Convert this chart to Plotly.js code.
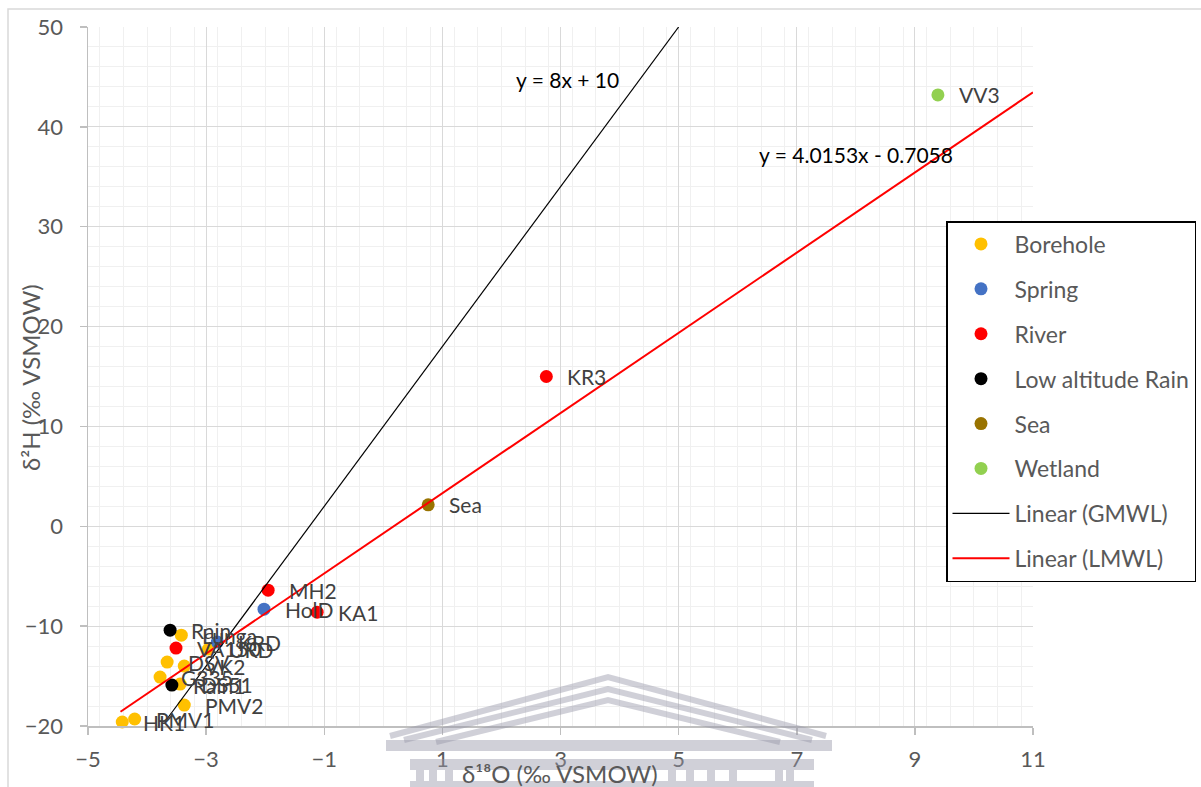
<!DOCTYPE html>
<html>
<head>
<meta charset="utf-8">
<script src="https://cdn.plot.ly/plotly-3.0.1.min.js"></script>
<style>
  html, body { margin: 0; padding: 0; background: #ffffff; }
  #chart { width: 1201px; height: 787px; }
</style>
</head>
<body>
<div id="chart"></div>
<script>
// δ18O / δ2H isotope samples, grouped by water source
const boreholeX = [-4.42, -4.21, -3.37, -3.78, -3.44, -3.66, -3.37, -3.42, -2.96];
const boreholeY = [-19.6, -19.3, -17.9, -15.1, -15.8, -13.6, -14.0, -10.9, -12.3];
const boreholeLabels = ['HK1', 'PMV1', 'PMV2', 'G335', 'DS51', 'DSV', 'VK2', 'Lunga', 'URD'];

const springX = [-2.81, -2.02];
const springY = [-11.6, -8.3];
const springLabels = ['KRD', 'HolD'];

const riverX = [-3.51, -1.95, -1.12, 2.76];
const riverY = [-12.2, -6.4, -8.6, 15.0];
const riverLabels = ['VA150', 'MH2', 'KA1', 'KR3'];

const rainX = [-3.61, -3.58];
const rainY = [-10.4, -15.9];
const rainLabels = ['Rain', 'Rain1'];

const seaX = [0.76];
const seaY = [2.15];
const seaLabels = ['Sea'];

const wetlandX = [9.39];
const wetlandY = [43.2];
const wetlandLabels = ['VV3'];

// Meteoric water lines: slope, intercept and x extent
const gmwlSlope = 8, gmwlIntercept = 10, gmwlXRange = [-3.7, 5];
const lmwlSlope = 4.0153, lmwlIntercept = -0.7058, lmwlXRange = [-4.45, 11];

const FONT = 'Lato, "Open Sans", sans-serif';

function lineY(xs, m, b) { return xs.map(x => m * x + b); }

const groups = [
  { name: 'Borehole', x: boreholeX, y: boreholeY, t: boreholeLabels, c: '#FFC000' },
  { name: 'Spring', x: springX, y: springY, t: springLabels, c: '#4472C4' },
  { name: 'River', x: riverX, y: riverY, t: riverLabels, c: '#FF0000' },
  { name: 'Low altitude Rain', x: rainX, y: rainY, t: rainLabels, c: '#000000' },
  { name: 'Sea', x: seaX, y: seaY, t: seaLabels, c: '#997300' },
  { name: 'Wetland', x: wetlandX, y: wetlandY, t: wetlandLabels, c: '#92D050' }
];

const traces = groups.map((g, i) => ({
  type: 'scatter', mode: 'markers', name: g.name,
  x: g.x, y: g.y, legendgroup: 'g' + i,
  marker: { color: g.c, size: 13 },
  cliponaxis: false, hoverinfo: 'x+y+name'
}));

traces.push({
  type: 'scatter', mode: 'lines', name: 'Linear (GMWL)', legendgroup: 'g6',
  x: gmwlXRange, y: lineY(gmwlXRange, gmwlSlope, gmwlIntercept),
  line: { color: '#000000', width: 1.2 }
});
traces.push({
  type: 'scatter', mode: 'lines', name: 'Linear (LMWL)', legendgroup: 'g7',
  x: lmwlXRange, y: lineY(lmwlXRange, lmwlSlope, lmwlIntercept),
  line: { color: '#FF0000', width: 2 }
});

// Point labels to the right of each marker
const annotations = [];
groups.forEach(g => {
  g.x.forEach((x, k) => {
    annotations.push({
      x: x, y: g.y[k], xref: 'x', yref: 'y', text: g.t[k],
      showarrow: false, xanchor: 'left', yanchor: 'middle', xshift: 19,
      font: { family: FONT, size: 21, color: '#404040' }
    });
  });
});
annotations.push({
  x: 2.22, y: 44.7, xref: 'x', yref: 'y',
  text: 'y = ' + gmwlSlope + 'x + ' + gmwlIntercept,
  showarrow: false, xanchor: 'left', yanchor: 'middle',
  font: { family: FONT, size: 21, color: '#000000' }
});
annotations.push({
  x: 6.32, y: 37.2, xref: 'x', yref: 'y',
  text: 'y = ' + lmwlSlope.toFixed(4) + 'x - ' + Math.abs(lmwlIntercept).toFixed(4),
  showarrow: false, xanchor: 'left', yanchor: 'middle',
  font: { family: FONT, size: 21, color: '#000000' }
});

// Plot area in pixels, used to place the frame, titles and the faint emblem
const L = 88, R = 1033, T = 27, B = 726;
const px = v => (v - L) / (R - L);
const py = v => (B - v) / (B - T);
function path(pts, close) {
  return 'M' + pts.map(p => px(p[0]).toFixed(4) + ',' + py(p[1]).toFixed(4)).join(' L') + (close ? ' Z' : '');
}

// Axis titles
annotations.push({
  xref: 'paper', yref: 'paper', x: px(31), y: py(378), textangle: -90,
  text: 'δ²H (‰ VSMOW)', showarrow: false, xanchor: 'center', yanchor: 'middle',
  font: { family: FONT, size: 24, color: '#595959' }
});
annotations.push({
  xref: 'paper', yref: 'paper', x: px(560), y: py(773),
  text: 'δ¹⁸O (‰ VSMOW)', showarrow: false, xanchor: 'center', yanchor: 'middle',
  font: { family: FONT, size: 24, color: '#595959' }
});

const wm = 'rgba(150,150,168,0.45)';
const shapes = [
  // outer chart frame
  { type: 'rect', xref: 'paper', yref: 'paper', x0: px(8), x1: px(1230), y0: py(820), y1: py(9),
    line: { color: '#d9d9d9', width: 1.5 }, fillcolor: 'rgba(0,0,0,0)', layer: 'below' }
];
// emblem: stepped pediment, entablature and columns
[
  [[390, 736], [608, 677], [826, 736]],
  [[404, 740], [608, 689], [812, 740]],
  [[436, 742], [608, 700], [780, 742]]
].forEach(pts => {
  shapes.push({ type: 'path', xref: 'paper', yref: 'paper', layer: 'above',
    line: { color: wm, width: 6 }, fillcolor: 'rgba(0,0,0,0)', path: path(pts, false) });
});
shapes.push({ type: 'rect', xref: 'paper', yref: 'paper', layer: 'above', line: { width: 0 }, fillcolor: wm,
  x0: px(386), x1: px(832), y0: py(751), y1: py(740) });
shapes.push({ type: 'rect', xref: 'paper', yref: 'paper', layer: 'above', line: { width: 0 }, fillcolor: wm,
  x0: px(410), x1: px(814), y0: py(770), y1: py(759) });
shapes.push({ type: 'rect', xref: 'paper', yref: 'paper', layer: 'above', line: { width: 0 }, fillcolor: wm,
  x0: px(410), x1: px(814), y0: py(788), y1: py(781) });
[416, 429, 445, 668, 686, 707, 729, 775, 786].forEach(c => {
  shapes.push({ type: 'rect', xref: 'paper', yref: 'paper', layer: 'above', line: { width: 0 },
    fillcolor: wm, x0: px(c), x1: px(c + 8), y0: py(781), y1: py(770) });
});

const axisCommon = {
  showline: true, linecolor: '#bfbfbf', linewidth: 1.5,
  gridcolor: '#d9d9d9', gridwidth: 1,
  ticks: 'outside', ticklen: 7, tickcolor: '#bfbfbf', tickwidth: 1.5,
  tickfont: { family: FONT, size: 22, color: '#595959' },
  zeroline: false, fixedrange: true
};

const layout = {
  width: 1201, height: 787,
  margin: { l: L, r: 1201 - R, t: T, b: 787 - B, pad: 0, autoexpand: false },
  paper_bgcolor: '#ffffff', plot_bgcolor: '#ffffff',
  font: { family: FONT, color: '#595959' },
  showlegend: true,
  xaxis: Object.assign({}, axisCommon, {
    range: [-5, 11], tick0: -5, dtick: 2, ticklabelstandoff: 6,
    minor: { dtick: 0.4, showgrid: true, gridcolor: '#f0f0f0', gridwidth: 1 }
  }),
  yaxis: Object.assign({}, axisCommon, {
    range: [-20, 50], tick0: -20, dtick: 10, ticklabelstandoff: 12,
    minor: { dtick: 2, showgrid: true, gridcolor: '#f0f0f0', gridwidth: 1 }
  }),
  legend: {
    x: px(946), y: py(221), xanchor: 'left', yanchor: 'top',
    bgcolor: '#ffffff', bordercolor: '#000000', borderwidth: 1.5,
    font: { family: FONT, size: 23, color: '#595959' },
    tracegroupgap: 12, itemwidth: 57, traceorder: 'grouped'
  },
  annotations: annotations,
  shapes: shapes
};

Plotly.newPlot('chart', traces, layout, { displayModeBar: false, staticPlot: true });
</script>
</body>
</html>
